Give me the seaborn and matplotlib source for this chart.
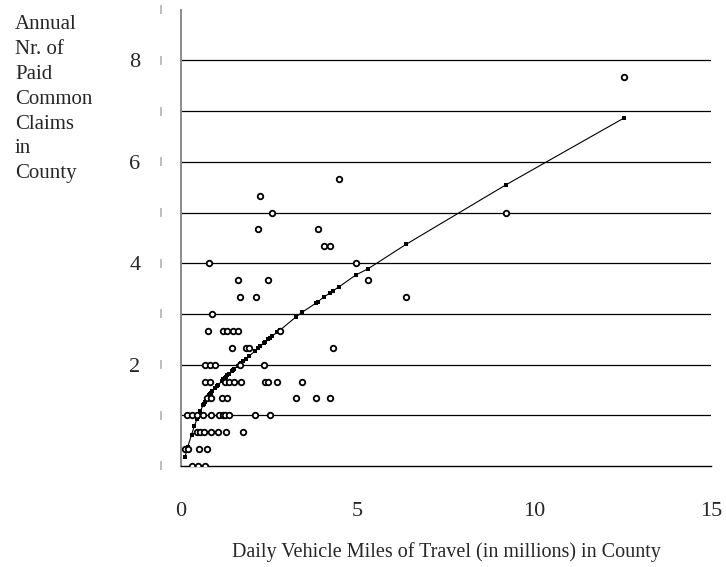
import matplotlib
matplotlib.use("Agg")
import matplotlib.pyplot as plt
import matplotlib.transforms as mtransforms
import seaborn as sns
import pandas as pd

# ---- observed counties: annual nr. of paid claims (3-year average) vs daily VMT (millions)
claims_levels = [0, 1/3, 2/3, 1, 4/3, 5/3, 2, 7/3, 8/3, 3, 10/3, 11/3, 4, 13/3, 14/3, 5, 16/3, 17/3, 23/3]
vmt_by_level = [
    [0.31, 0.48, 0.68],
    [0.12, 0.20, 0.52, 0.74],
    [0.46, 0.55, 0.66, 0.86, 1.06, 1.28, 1.77],
    [0.18, 0.33, 0.46, 0.64, 0.86, 1.07, 1.19, 1.26, 1.38, 2.11, 2.52],
    [0.75, 0.85, 1.16, 1.32, 3.26, 3.82, 4.23],
    [0.69, 0.83, 1.25, 1.37, 1.51, 1.71, 2.39, 2.47, 2.73, 3.43],
    [0.69, 0.82, 0.97, 1.68, 2.36],
    [1.44, 1.85, 1.92, 4.32],
    [0.76, 1.21, 1.32, 1.49, 1.63, 2.81],
    [0.88],
    [1.68, 2.12, 6.37],
    [1.61, 2.48, 5.30],
    [0.81, 4.96],
    [4.06, 4.22],
    [2.18, 3.88],
    [2.58, 9.21],
    [2.25],
    [4.49],
    [12.53],
]

# ---- fitted model values
fit_vmt = [0.12, 0.18, 0.20, 0.31, 0.38, 0.46, 0.48, 0.52, 0.55, 0.64, 0.66, 0.68, 0.69,
           0.74, 0.76, 0.81, 0.83, 0.85, 0.88, 0.97, 1.03, 1.06, 1.16, 1.19, 1.21, 1.25,
           1.28, 1.32, 1.37, 1.44, 1.49, 1.51, 1.61, 1.63, 1.68, 1.71, 1.77, 1.85, 1.92,
           2.11, 2.18, 2.25, 2.36, 2.39, 2.47, 2.52, 2.58, 2.73, 2.81, 3.26, 3.43, 3.82,
           3.88, 4.06, 4.22, 4.32, 4.49, 4.96, 5.30, 6.37, 9.21, 12.53]
fit_claims = [0.17, 0.33, 0.38, 0.62, 0.78, 0.92, 0.96, 1.03, 1.08, 1.20, 1.23, 1.26, 1.27,
              1.33, 1.35, 1.40, 1.42, 1.44, 1.47, 1.54, 1.58, 1.60, 1.67, 1.69, 1.71, 1.74,
              1.76, 1.79, 1.82, 1.87, 1.90, 1.91, 1.97, 1.98, 2.01, 2.03, 2.07, 2.12, 2.16,
              2.27, 2.32, 2.36, 2.43, 2.45, 2.50, 2.53, 2.56, 2.64, 2.68, 2.94, 3.03, 3.21,
              3.24, 3.34, 3.41, 3.46, 3.54, 3.77, 3.89, 4.37, 5.55, 6.86]

x_ticks = [0, 5, 10, 15]
y_ticks = list(range(0, 10))
y_tick_labels = ["", "", "2", "", "4", "", "6", "", "8", ""]

obs_x, obs_y = [], []
for lvl, xs in zip(claims_levels, vmt_by_level):
    for v in xs:
        obs_x.append(v)
        obs_y.append(lvl)
obs = pd.DataFrame({"vmt": obs_x, "claims": obs_y})
fit = pd.DataFrame({"vmt": fit_vmt, "claims": fit_claims})

sns.set_style("white")
plt.rcParams["font.family"] = ["Liberation Serif", "DejaVu Serif"]

W, H = 726, 567
fig = plt.figure(figsize=(W / 100, H / 100), dpi=100)
x0, x1, ytop, ybot = 180.7, 711.0, 9.7, 466.0
ax = fig.add_axes([x0 / W, 1 - ybot / H, (x1 - x0) / W, (ybot - ytop) / H])

ax.set_xlim(0, 15)
ax.set_ylim(0, 9)

for g in range(1, 9):
    ax.axhline(g, color="black", lw=0.9, zorder=1)

sns.lineplot(data=fit, x="vmt", y="claims", ax=ax, color="black", lw=0.8,
             sort=True, estimator=None, zorder=2)
sns.scatterplot(data=fit, x="vmt", y="claims", ax=ax, color="black", marker="s",
                s=5, linewidth=0, zorder=3)
sns.scatterplot(data=obs, x="vmt", y="claims", ax=ax, facecolor="white",
                edgecolor="black", s=16, linewidth=1.3, zorder=4)

for side in ["top", "right"]:
    ax.spines[side].set_visible(False)
ax.spines["left"].set_color("#8a8a8a")
ax.spines["left"].set_linewidth(1.4)
ax.spines["bottom"].set_color("black")
ax.spines["bottom"].set_linewidth(1.0)

ax.set_xticks(x_ticks)
ax.set_xticklabels([str(t) for t in x_ticks], fontsize=16)
ax.set_yticks(y_ticks)
ax.set_yticklabels(y_tick_labels, fontsize=16)
ax.tick_params(axis="x", direction="out", length=5, width=1, color="black", pad=21)
ax.tick_params(axis="y", direction="out", length=9, width=1, color="black", pad=20)

trans = mtransforms.blended_transform_factory(ax.transAxes, ax.transData)
for t in y_ticks:
    ax.text(-20 / (x1 - x0), t, "|", transform=trans, ha="center", va="center",
            fontsize=7.5, color="black")

ax.set_xlabel("")
ax.set_ylabel("")
fig.text(446 / W, 1 - 552 / H, "Daily Vehicle Miles of Travel (in millions) in County",
         ha="center", va="center", fontsize=14.5)

fig.text(15 / W, 1 - 15 / H, "Annual\nNr. of\nPaid\nCommon\nClaims\nin\nCounty",
         ha="left", va="top", fontsize=15, linespacing=1.42)

fig.savefig("out.png", dpi=100)
